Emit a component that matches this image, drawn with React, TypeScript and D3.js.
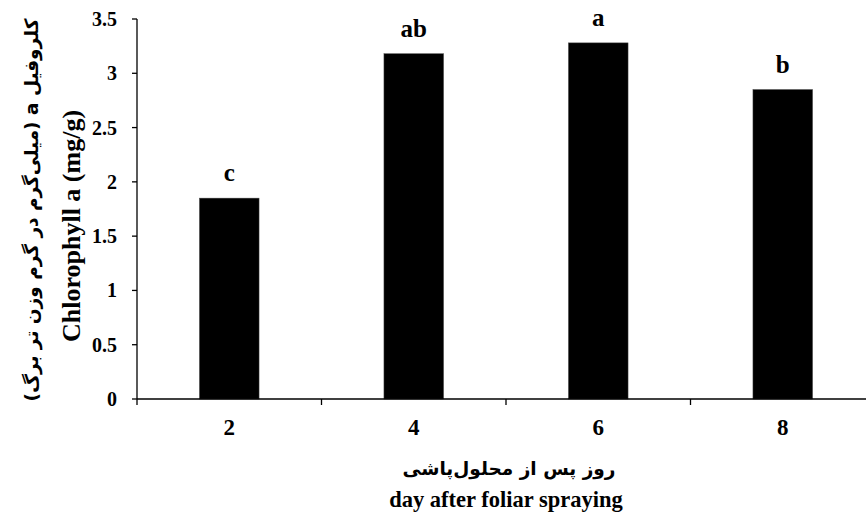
import React from 'react';
import * as d3 from 'd3';

const days = ['2', '4', '6', '8'];
const chlorophyll = [1.85, 3.18, 3.28, 2.85];
const letters = ['c', 'ab', 'a', 'b'];
const yTicks = [0, 0.5, 1, 1.5, 2, 2.5, 3, 3.5];

const W = 866;
const H = 513;
const left = 137;
const right = 875; // the plot runs past the window edge
const top = 19;
const bottom = 399;

const serif = "'Liberation Serif', serif";
const arabic = "'DejaVu Sans', sans-serif";

const App = () => {
  const x = d3.scaleBand().domain(days).range([left, right]).paddingInner(0.677).paddingOuter(0.3385);
  const y = d3.scaleLinear().domain([0, 3.5]).range([bottom, top]);
  const step = x.step();
  const mid = (left + right) / 2;

  return (
    <svg width={W} height={H} style={{ position: 'absolute', left: 0, top: 0, fontFamily: serif }}>
      <rect width={W} height={H} fill="#fff" />
      {days.map((d, i) => (
        <g key={d}>
          <rect x={x(d)} y={y(chlorophyll[i])} width={x.bandwidth()} height={bottom - y(chlorophyll[i])} fill="#000" stroke="#444" strokeWidth={0.5} />
          <text x={x(d)! + x.bandwidth() / 2} y={y(chlorophyll[i]) - 17} textAnchor="middle" fontSize={25} fontWeight="bold">{letters[i]}</text>
          <text x={x(d)! + x.bandwidth() / 2} y={435} textAnchor="middle" fontSize={23} fontWeight="bold">{d}</text>
        </g>
      ))}
      {/* y axis */}
      <line x1={left} x2={left} y1={top} y2={bottom} stroke="#000" strokeWidth={1.3} />
      {yTicks.map(t => (
        <g key={t}>
          <line x1={left - 5} x2={left} y1={y(t)} y2={y(t)} stroke="#000" strokeWidth={1.3} />
          <text x={117} y={y(t)} dy="0.35em" textAnchor="end" fontSize={20} fontWeight="bold">{t}</text>
        </g>
      ))}
      {/* x axis */}
      <line x1={left} x2={right} y1={bottom} y2={bottom} stroke="#000" strokeWidth={1.3} />
      {d3.range(days.length + 1).map(i => (
        <line key={i} x1={left + i * step} x2={left + i * step} y1={bottom} y2={bottom + 6} stroke="#000" strokeWidth={1.3} />
      ))}
      <text x={mid + 3} y={475} textAnchor="middle" fontSize={18.5} fontWeight="bold" direction="rtl" style={{ fontFamily: arabic }}>روز پس از محلول‌پاشی</text>
      <text x={mid} y={507} textAnchor="middle" fontSize={22.5} fontWeight="bold">day after foliar spraying</text>
      <text transform={`translate(80,${226}) rotate(-90)`} textAnchor="middle" fontSize={26} fontWeight="bold">Chlorophyll a (mg/g)</text>
      <text transform={`translate(38,${210}) rotate(-90)`} textAnchor="middle" fontSize={18.5} fontWeight="bold" direction="rtl" style={{ fontFamily: arabic }}>کلروفیل a (میلی‌گرم در گرم وزن تر برگ)</text>
    </svg>
  );
};

export default App;
